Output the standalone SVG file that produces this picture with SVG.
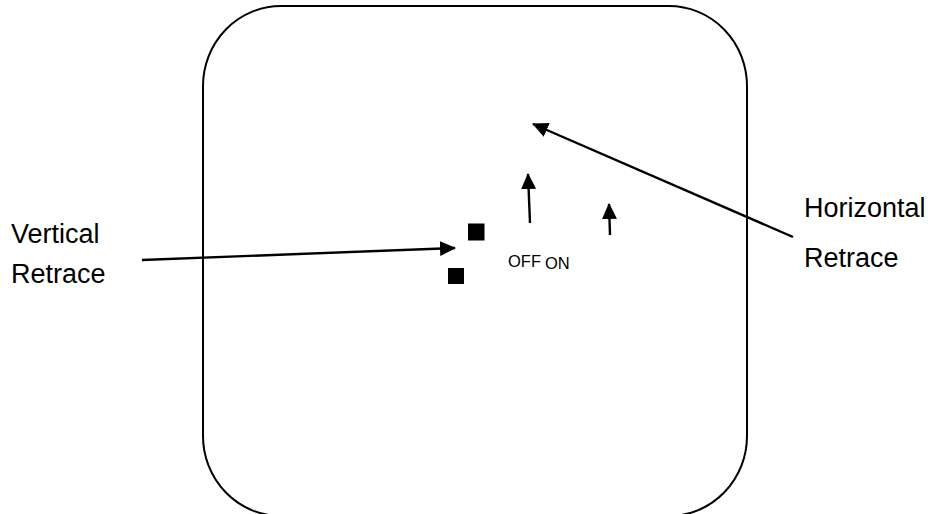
<svg xmlns="http://www.w3.org/2000/svg" width="928" height="514" viewBox="0 0 928 514">
<style>
.frame{fill:none;stroke:#000;stroke-width:2}
.conn{fill:none;stroke:#000;stroke-width:2.4}
.lbl{font-family:"Liberation Sans",Arial,sans-serif;font-size:27px;fill:#000}
.sm{font-family:"Liberation Sans",Arial,sans-serif;font-size:16.5px;fill:#000}
.dot{fill:#000}
</style>
<defs>
<marker id="ah" markerUnits="userSpaceOnUse" markerWidth="18" markerHeight="18" refX="15" refY="7.5" orient="auto">
<path d="M0,0 L16,7.5 L0,15 Z" fill="#000"/>
</marker>
</defs>
<g id="screen">
<rect class="frame" x="203" y="6" width="544" height="510" rx="78" ry="80"/>
</g>
<g id="vertical-retrace">
<text class="lbl" x="11" y="243">Vertical</text>
<text class="lbl" x="11" y="283">Retrace</text>
</g>
<g id="horizontal-retrace">
<text class="lbl" x="804" y="217">Horizontal</text>
<text class="lbl" x="804" y="267">Retrace</text>
</g>
<g id="dots">
<rect class="dot" x="468" y="223.5" width="16.5" height="17"/>
<rect class="dot" x="448" y="268" width="16" height="16"/>
</g>
<g id="off-on">
<text class="sm" x="508" y="267">OFF</text>
<text class="sm" x="545" y="269">ON</text>
</g>
<g id="connectors">
<line class="conn" x1="142" y1="260" x2="455" y2="248" marker-end="url(#ah)"/>
<line class="conn" x1="793" y1="237" x2="533" y2="124" marker-end="url(#ah)"/>
<line class="conn" x1="530" y1="223" x2="528" y2="174" marker-end="url(#ah)"/>
<line class="conn" x1="610" y1="235" x2="609" y2="204" marker-end="url(#ah)"/>
</g>
</svg>
